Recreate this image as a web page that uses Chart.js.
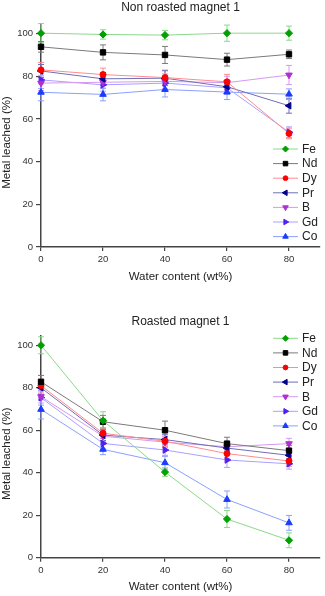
<!DOCTYPE html>
<html>
<head>
<meta charset="utf-8">
<script src="https://cdn.jsdelivr.net/npm/chart.js@4.4.1/dist/chart.umd.min.js"></script>
<style>
  body { margin: 0; background: #fff; width: 325px; height: 596px; overflow: hidden; }
  canvas { display: block; }
</style>
</head>
<body>
<canvas id="topChart" width="325" height="298"></canvas>
<canvas id="bottomChart" width="325" height="298"></canvas>
<script>
// x values (wt% water) and element names
const waterContent = [0, 20, 40, 60, 80];
const elements = ['Fe', 'Nd', 'Dy', 'Pr', 'B', 'Gd', 'Co'];
const xTicks = [0, 20, 40, 60, 80];
const yTicks = [0, 20, 40, 60, 80, 100];

// Non roasted magnet 1 : leached %
const nonRoastedFe = [100.2, 99.6, 99.3, 100.2, 100.2];
const nonRoastedNd = [93.8, 91.2, 90.0, 87.8, 90.3];
const nonRoastedDy = [83.0, 80.8, 79.4, 77.4, 53.2];
const nonRoastedPr = [82.5, 78.8, 79.1, 75.1, 66.2];
const nonRoastedB  = [76.8, 77.2, 77.6, 77.0, 80.6];
const nonRoastedGd = [78.3, 76.0, 76.8, 74.6, 53.8];
const nonRoastedCo = [72.5, 71.5, 73.8, 72.6, 71.6];

// Non roasted magnet 1 : error (+/-)
const nonRoastedFeErr = [4.5, 2.2, 2.2, 3.8, 3.3];
const nonRoastedNdErr = [2.5, 3.5, 4.0, 3.0, 2.0];
const nonRoastedDyErr = [3.5, 3.0, 3.5, 3.5, 2.5];
const nonRoastedPrErr = [3.0, 3.0, 3.5, 3.0, 3.5];
const nonRoastedBErr  = [3.5, 3.0, 3.5, 3.0, 4.5];
const nonRoastedGdErr = [4.0, 3.0, 3.0, 3.0, 2.5];
const nonRoastedCoErr = [4.0, 3.0, 3.5, 3.5, 2.5];

// Roasted magnet 1 : leached %
const roastedFe = [100.0, 64.5, 40.3, 18.2, 8.2];
const roastedNd = [82.8, 64.0, 60.0, 53.7, 50.4];
const roastedDy = [81.0, 58.6, 54.8, 49.0, 45.5];
const roastedPr = [80.0, 57.7, 55.6, 51.6, 48.2];
const roastedB  = [75.8, 57.2, 54.4, 52.2, 53.7];
const roastedGd = [75.3, 53.8, 50.7, 46.0, 44.2];
const roastedCo = [69.8, 51.0, 44.7, 27.4, 16.4];

// Roasted magnet 1 : error (+/-)
const roastedFeErr = [4.0, 4.2, 2.0, 4.0, 3.5];
const roastedNdErr = [3.0, 3.0, 4.3, 3.0, 2.5];
const roastedDyErr = [3.0, 2.5, 2.5, 2.5, 2.5];
const roastedPrErr = [3.0, 2.5, 2.5, 2.5, 2.5];
const roastedBErr  = [3.0, 2.5, 2.5, 2.5, 2.5];
const roastedGdErr = [3.5, 2.5, 2.5, 3.5, 2.5];
const roastedCoErr = [4.5, 2.5, 3.0, 4.0, 3.5];

// styles per element
const lineColors   = ['#8cd88c', '#7a7a7a', '#ff8c8c', '#6e6eb8', '#d49af0', '#a8a0ff', '#8aa0ff'];
const markerColors = ['#00a000', '#000000', '#ff0000', '#00008c', '#b030d0', '#5020f0', '#1a3cff'];
const pointStyles  = ['rectRot', 'rect', 'circle', 'triangle', 'triangle', 'triangle', 'triangle'];
const pointRots    = [0, 0, 0, -90, 180, 90, 0];
const pointSizes   = [3.6, 3.8, 3, 3.8, 3.8, 3.8, 3.8];

const FONT = '"Liberation Sans", Arial, sans-serif';

// vertical error bars drawn with the chart scales
const errorBars = {
  id: 'errorBars',
  beforeDatasetsDraw(chart) {
    const ctx = chart.ctx, xs = chart.scales.x, ys = chart.scales.y;
    ctx.save();
    chart.data.datasets.forEach((ds, i) => {
      ctx.strokeStyle = lineColors[i];
      ctx.lineWidth = 1;
      ds.data.forEach((p, j) => {
        const e = ds.errors[j];
        const x = xs.getPixelForValue(p.x);
        const y1 = ys.getPixelForValue(p.y + e), y2 = ys.getPixelForValue(p.y - e);
        ctx.beginPath();
        ctx.moveTo(x, y1); ctx.lineTo(x, y2);
        ctx.moveTo(x - 3, y1); ctx.lineTo(x + 3, y1);
        ctx.moveTo(x - 3, y2); ctx.lineTo(x + 3, y2);
        ctx.stroke();
      });
    });
    ctx.restore();
  }
};

// legend (line + marker) and rotated y title
const extras = {
  id: 'extras',
  afterDraw(chart, args, o) {
    const ctx = chart.ctx, a = chart.chartArea;
    ctx.save();
    ctx.fillStyle = '#222';
    ctx.font = '11.5px ' + FONT;
    ctx.textAlign = 'center';
    ctx.textBaseline = 'middle';
    ctx.translate(7, (a.top + a.bottom) / 2 + 7);
    ctx.rotate(-Math.PI / 2);
    ctx.fillText('Metal leached (%)', 0, 0);
    ctx.restore();

    ctx.save();
    chart.data.datasets.forEach((ds, i) => {
      const y = o.legendTop + i * 14.6;
      ctx.strokeStyle = lineColors[i];
      ctx.lineWidth = 1;
      ctx.beginPath();
      ctx.moveTo(273, y); ctx.lineTo(298, y);
      ctx.stroke();
      ctx.fillStyle = markerColors[i];
      ctx.strokeStyle = markerColors[i];
      Chart.helpers.drawPoint(ctx, {
        pointStyle: pointStyles[i], radius: pointSizes[i] - 0.6,
        rotation: pointRots[i], borderWidth: 1
      }, 285.5, y);
      ctx.fillStyle = '#222';
      ctx.font = '12px ' + FONT;
      ctx.textAlign = 'left';
      ctx.textBaseline = 'middle';
      ctx.fillText(ds.label, 302, y + 0.5);
    });
    ctx.restore();
  }
};

function makeChart(canvasId, title, series, errs, o) {
  const datasets = elements.map((el, i) => ({
    label: el,
    data: waterContent.map((x, j) => ({ x: x, y: series[i][j] })),
    errors: errs[i],
    borderColor: lineColors[i],
    borderWidth: 1,
    pointStyle: pointStyles[i],
    pointRotation: pointRots[i],
    pointRadius: pointSizes[i],
    pointBackgroundColor: markerColors[i],
    pointBorderColor: markerColors[i],
    pointBorderWidth: 1,
    tension: 0,
    clip: false
  }));

  const axisGrid = { display: true, drawOnChartArea: false, drawTicks: true, color: '#444', lineWidth: 1.2 };

  return new Chart(document.getElementById(canvasId), {
    type: 'line',
    data: { datasets: datasets },
    options: {
      responsive: false,
      animation: false,
      devicePixelRatio: 1,
      layout: { padding: { left: 0, right: 2, top: 0, bottom: 0 } },
      plugins: {
        legend: { display: false },
        tooltip: { enabled: false },
        title: {
          display: true, text: title, fullSize: false, color: '#222',
          font: { family: FONT, size: 12, weight: 'normal' },
          padding: { top: o.titleTop, bottom: o.titleBottom }
        },
        extras: { legendTop: o.legendTop }
      },
      scales: {
        x: {
          type: 'linear', min: 0, max: 90,
          ticks: { color: '#333', font: { family: FONT, size: 9.5 }, padding: 3, maxRotation: 0, autoSkip: false },
          afterBuildTicks: s => { s.ticks = xTicks.map(v => ({ value: v })); },
          afterFit: s => { s.height = o.xHeight; },
          grid: Object.assign({ tickLength: 4 }, axisGrid),
          border: { display: true, color: '#444', width: 1.5 },
          title: {
            display: true, text: 'Water content (wt%)', color: '#222',
            font: { family: FONT, size: 11.5 }, padding: { top: 0, bottom: o.xTitleBottom }
          }
        },
        y: {
          min: 0, max: 104.5,
          ticks: { color: '#333', font: { family: FONT, size: 9.5 }, padding: 3, autoSkip: false },
          afterBuildTicks: s => { s.ticks = yTicks.map(v => ({ value: v })); },
          afterFit: s => { s.width = 41; },
          grid: Object.assign({ tickLength: 5 }, axisGrid),
          border: { display: true, color: '#444', width: 1.5 }
        }
      }
    },
    plugins: [errorBars, extras]
  });
}

makeChart('topChart', 'Non roasted magnet 1',
  [nonRoastedFe, nonRoastedNd, nonRoastedDy, nonRoastedPr, nonRoastedB, nonRoastedGd, nonRoastedCo],
  [nonRoastedFeErr, nonRoastedNdErr, nonRoastedDyErr, nonRoastedPrErr, nonRoastedBErr, nonRoastedGdErr, nonRoastedCoErr],
  { titleTop: 0, titleBottom: 9.6, xHeight: 51, xTitleBottom: 14.4, legendTop: 149 });

makeChart('bottomChart', 'Roasted magnet 1',
  [roastedFe, roastedNd, roastedDy, roastedPr, roastedB, roastedGd, roastedCo],
  [roastedFeErr, roastedNdErr, roastedDyErr, roastedPrErr, roastedBErr, roastedGdErr, roastedCoErr],
  { titleTop: 16.5, titleBottom: 6.8, xHeight: 38.3, xTitleBottom: 2.4, legendTop: 40.3 });
</script>
</body>
</html>
